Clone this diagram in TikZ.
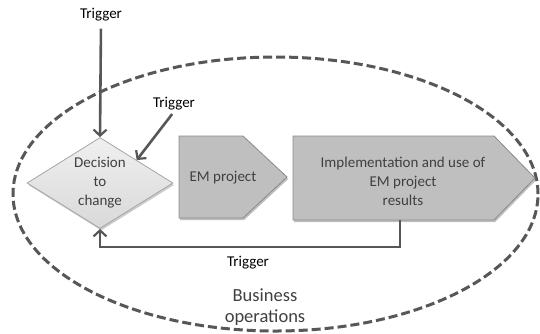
\documentclass[tikz,border=0pt]{standalone}
\usepackage{fontspec}
\setmainfont{Carlito}
\usetikzlibrary{shapes.geometric,arrows.meta,shadows}
\definecolor{linegray}{HTML}{575757}
\definecolor{boxfill}{HTML}{BFBFBF}
\definecolor{boxline}{HTML}{8A8A8A}
\definecolor{txtgray}{HTML}{404040}
\tikzset{
  arr/.style={draw=linegray, line width=2.6pt, -{Straight Barb[length=6pt,width=13pt,line width=2.2pt]}},
  boxshape/.style={fill=boxfill, draw=boxline, line width=0.8pt,
    drop shadow={shadow xshift=1.2pt, shadow yshift=-2pt, opacity=0.5}},
  boxtext/.style={text=txtgray, font=\fontsize{15}{19}\selectfont, align=center, inner sep=0pt},
  decshape/.style={diamond, aspect=1.6, inner sep=0pt, minimum width=146pt, minimum height=91pt,
    top color=black!6, bottom color=black!15, draw=black!35, line width=0.8pt, text=txtgray,
    font=\fontsize{15}{19}\selectfont, align=center,
    drop shadow={shadow xshift=1.2pt, shadow yshift=-2pt, opacity=0.4}},
  trig/.style={font=\fontsize{15}{18}\selectfont, text=black, inner sep=1pt},
  region/.style={draw=linegray, line width=3pt, dash pattern=on 9pt off 4pt}
}
\begin{document}
\begin{tikzpicture}[x=1pt,y=-1pt]
\useasboundingbox (0,0) rectangle (540,333);
\draw[region] (275.5,194) ellipse [x radius=262.5pt, y radius=137pt];
\node[decshape] (dec) at (100,183) {Decision\\to\\change};
% EM project pentagon
\path[boxshape] (179,136) -- (243,136) -- (287,177) -- (243,218) -- (179,218) -- cycle;
\node[boxtext] (em) at (223,178) {EM project};
% Implementation pentagon
\path[boxshape] (293,136) -- (494,136) -- (535,178) -- (494,220) -- (293,220) -- cycle;
\node[boxtext] (impl) at (403,181) {Implementation and use of\\EM project\\results};
\coordinate (implbot) at (400,220);
\node[trig] (t1) at (101,15) {Trigger};
\node[trig] (t2) at (174,104) {Trigger};
\node[trig] (t3) at (248,263) {Trigger};
\node[font=\fontsize{18.5}{21}\selectfont, text=txtgray, align=center] (biz) at (265,307) {Business\\operations};
\draw[arr, shorten <=6pt] (t1.south) -- (dec.north);
\draw[arr, shorten <=3pt] (t2.south) -- (dec.north east);
\draw[arr] (implbot) -- ++(0,27) -| (dec.south);
\end{tikzpicture}
\end{document}
